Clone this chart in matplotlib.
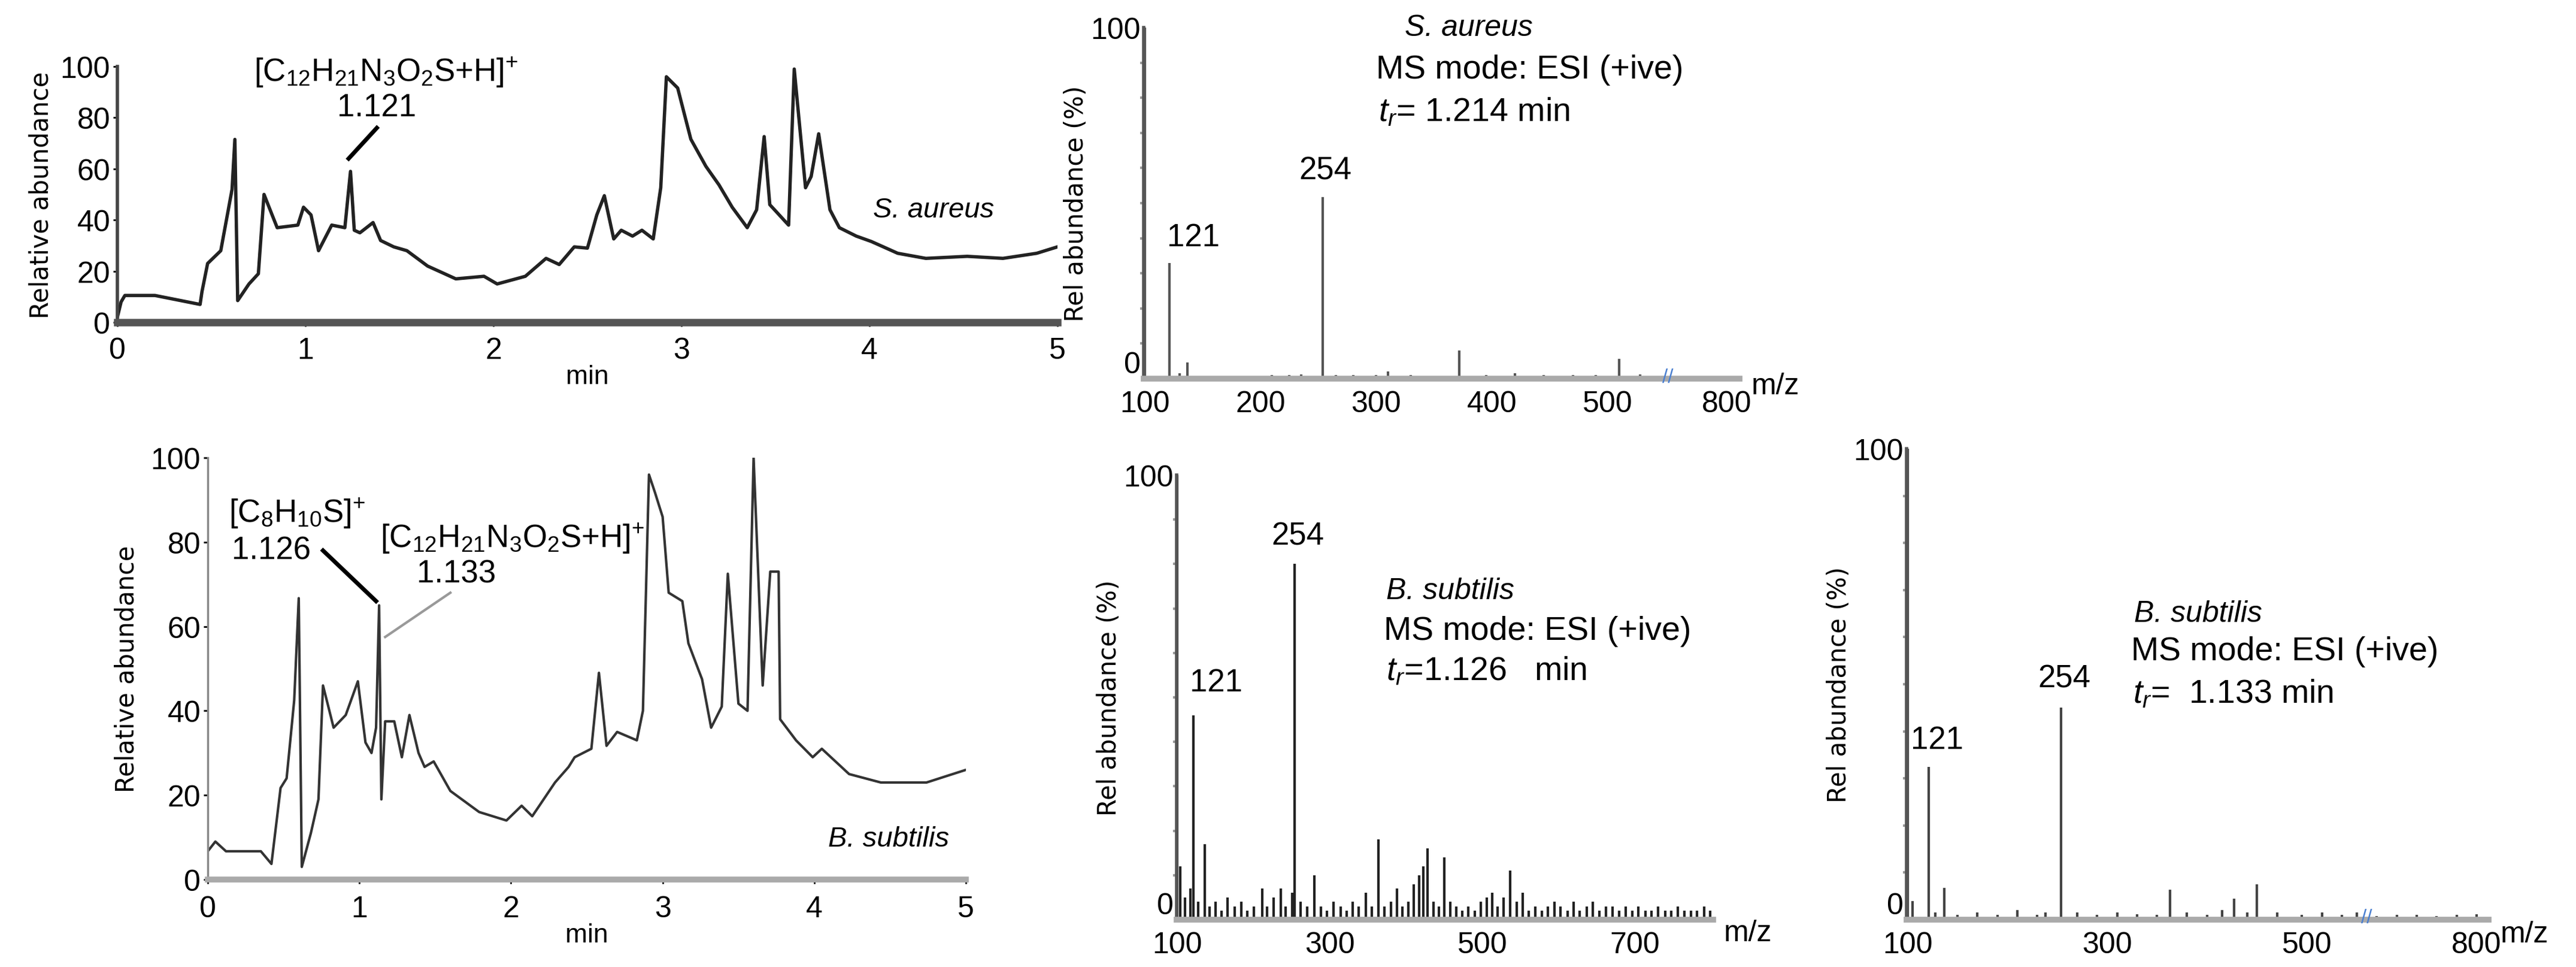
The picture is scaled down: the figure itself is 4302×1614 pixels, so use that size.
import matplotlib
matplotlib.use("Agg")
import matplotlib.pyplot as plt

plt.rcParams["font.family"] = ["Liberation Sans", "DejaVu Sans"]
plt.rcParams["mathtext.fontset"] = "custom"
plt.rcParams["mathtext.rm"] = "Liberation Sans"
plt.rcParams["mathtext.it"] = "Liberation Sans:italic"

# chromatogram S. aureus
sa_time = [0, 0.02, 0.04, 0.2, 0.44, 0.45, 0.48, 0.55, 0.61, 0.625, 0.64, 0.70, 0.75, 0.78, 0.85, 0.96,
           0.99, 1.03, 1.07, 1.14, 1.21, 1.24, 1.26, 1.29, 1.36, 1.40, 1.47, 1.54, 1.65, 1.80, 1.95,
           2.02, 2.17, 2.28, 2.35, 2.43, 2.50, 2.55, 2.59, 2.64, 2.68, 2.74, 2.79, 2.85, 2.89, 2.92,
           2.98, 3.05, 3.13, 3.20, 3.27, 3.35, 3.40, 3.44, 3.47, 3.57, 3.60, 3.66, 3.69, 3.73, 3.79,
           3.84, 3.93, 4.01, 4.15, 4.30, 4.52, 4.71, 4.89, 5.0]
sa_abund = [2, 8, 10.5, 10.5, 7, 12, 23, 28, 52, 71.5, 8.5, 15, 19, 50, 37, 38,
            45, 42, 28, 38, 37, 59, 36, 35, 39, 32, 29.5, 28, 22, 17, 18,
            15, 18, 25, 22.6, 29.5, 29, 42, 49.5, 32.6, 36, 33.7, 36, 32.6, 52.6, 96,
            91.6, 71.6, 61, 53.7, 45, 37, 44, 72.6, 46, 38, 99, 52.6, 57, 73.7, 44,
            37, 33.7, 31.6, 27, 25, 25.8, 25, 27, 29.5]

# chromatogram B. subtilis
bs_time = [0, 0.05, 0.12, 0.35, 0.42, 0.48, 0.52, 0.57, 0.60, 0.62, 0.68, 0.73, 0.76, 0.83, 0.91,
           0.99, 1.04, 1.08, 1.11, 1.13, 1.145, 1.17, 1.23, 1.28, 1.33, 1.39, 1.43, 1.49, 1.60,
           1.79, 1.97, 2.07, 2.14, 2.29, 2.38, 2.42, 2.53, 2.58, 2.63, 2.70, 2.83, 2.87, 2.91,
           2.95, 3.00, 3.04, 3.13, 3.17, 3.26, 3.32, 3.39, 3.43, 3.50, 3.56, 3.60, 3.66, 3.71,
           3.765, 3.775, 3.88, 3.99, 4.05, 4.23, 4.44, 4.74, 5.0]
bs_abund = [6.7, 9, 6.7, 6.7, 3.7, 21.7, 24, 42.5, 66.7, 3, 11, 19, 46, 36, 39,
            47, 32.5, 30, 36, 65, 19, 37.5, 37.5, 29, 39, 30, 26.7, 28, 21,
            16, 14, 17.5, 15, 23, 26.7, 29, 31, 49, 31.7, 35, 33, 40, 96,
            91.7, 86, 68, 66, 56, 47.5, 36, 41, 72.5, 41.7, 40, 100, 46, 73,
            73, 38, 33, 29, 31, 25, 23, 23, 26]

# mass spectra (m/z, relative abundance %)
sa_ms_mz = [95, 100, 121, 130, 137, 210, 225, 235, 254, 265, 280, 300, 310, 330, 372, 395, 420, 445, 470, 490, 510, 528]
sa_ms_int = [2, 100, 33, 1.5, 4.6, 1, 1, 1.2, 51.7, 1, 1, 1, 2, 1, 8, 1, 1.5, 1, 1, 1, 5.7, 1.2]

bs1_ms_mz = [100, 104, 110, 117, 121, 127, 136, 142, 150, 158, 166, 175, 184, 192, 200, 211, 218, 226, 236,
             242, 251, 254, 262, 270, 280, 288, 296, 305, 314, 322, 330, 338, 347, 355, 364, 372, 380,
             388, 395, 403, 410, 417, 423, 428, 436, 443, 450, 458, 466, 474, 482, 490, 498, 506, 513,
             520, 528, 537, 545, 553, 561, 570, 578, 586, 595, 603, 612, 620, 628, 637, 645, 654, 662,
             671, 680, 688, 697, 705, 714, 722, 731, 740, 748, 757, 765, 774, 782, 791, 799]
bs1_ms_int = [100, 12, 5, 7, 46, 4, 17, 3, 4, 2, 5, 3, 4, 2, 3, 7, 3, 5, 7,
              3, 6, 80, 4, 3, 10, 3, 2, 4, 3, 2, 4, 3, 6, 3, 18, 3, 4,
              7, 3, 4, 8, 10, 12, 16, 4, 3, 14, 4, 3, 2, 3, 2, 4, 5, 6,
              3, 5, 11, 4, 6, 2, 3, 2, 3, 4, 3, 2, 4, 2, 3, 4, 2, 3,
              3, 2, 3, 2, 3, 2, 2, 3, 2, 2, 3, 2, 2, 2, 3, 2]

bs2_ms_mz = [100, 105, 121, 128, 137, 150, 170, 190, 210, 230, 238, 254, 270, 290, 310, 330, 350, 363,
             380, 400, 415, 427, 440, 450, 470, 495, 515, 535, 550, 570, 590, 610, 630, 650, 670]
bs2_ms_int = [100, 4, 32.5, 1.5, 6.7, 1, 1.5, 1, 2, 1, 1.5, 45, 1.5, 1, 1.5, 1.2, 1, 6.3,
              1.5, 1, 2, 4.5, 1.5, 7.5, 1.5, 1, 1.5, 1, 1.5, 0.8, 1, 1, 0.8, 1, 1.2]

W, H = 4302, 1615
fig = plt.figure(figsize=(W / 100, H / 100), dpi=100)


def px_axes(x0, x1, y_bottom, y_top):
    return fig.add_axes([x0 / W, 1 - y_bottom / H, (x1 - x0) / W, (y_bottom - y_top) / H])


TICK = 36
TXT = 38
formula = r"[C$_{12}$H$_{21}$N$_3$O$_2$S+H]$^{+}$"

# ---- top left chromatogram
ax1 = px_axes(196, 1766, 539, 112)
ax1.plot(sa_time, sa_abund, color="#222222", lw=4)
ax1.set_xlim(0, 5)
ax1.set_ylim(0, 100)
ax1.set_xticks(range(6))
ax1.set_yticks(range(0, 101, 20))
for s in ["top", "right"]:
    ax1.spines[s].set_visible(False)
ax1.spines["bottom"].set_color("#555555")
ax1.spines["bottom"].set_linewidth(9)
ax1.spines["left"].set_color("#444444")
ax1.spines["left"].set_linewidth(4)
ax1.tick_params(labelsize=TICK, length=5, width=2)
ax1.tick_params(axis="x", pad=12)
ax1.set_ylabel("Relative abundance", fontsize=30, family="DejaVu Sans", labelpad=8)
ax1.set_xlabel("min", fontsize=32, labelpad=0)
ax1.text(1.43, 98, formula, fontsize=TXT, ha="center", va="center")
ax1.text(1.38, 84, "1.121", fontsize=TXT, ha="center", va="center")
ax1.plot([1.23, 1.38], [64, 76], color="black", lw=5)
ax1.text(4.34, 44, "S. aureus", fontsize=34, style="italic", ha="center", va="center")

# ---- bottom left chromatogram
ax2 = px_axes(347, 1613, 1469, 765)
ax2.plot(bs_time, bs_abund, color="#333333", lw=3)
ax2.set_xlim(0, 5)
ax2.set_ylim(0, 100)
ax2.set_xticks(range(6))
ax2.set_yticks(range(0, 101, 20))
for s in ["top", "right"]:
    ax2.spines[s].set_visible(False)
ax2.spines["bottom"].set_color("#aaaaaa")
ax2.spines["bottom"].set_linewidth(7)
ax2.spines["left"].set_color("#888888")
ax2.spines["left"].set_linewidth(2.5)
ax2.tick_params(labelsize=TICK, length=5, width=2)
ax2.tick_params(axis="x", pad=14)
ax2.set_ylabel("Relative abundance", fontsize=30, family="DejaVu Sans", labelpad=14)
ax2.set_xlabel("min", fontsize=32, labelpad=0)
ax2.text(0.59, 87, r"[C$_8$H$_{10}$S]$^{+}$", fontsize=TXT, ha="center", va="center")
ax2.text(0.42, 78, "1.126", fontsize=TXT, ha="center", va="center")
ax2.plot([0.76, 1.11], [78, 66], color="black", lw=5)
ax2.text(2.01, 81, formula, fontsize=TXT, ha="center", va="center")
ax2.text(1.64, 72.5, "1.133", fontsize=TXT, ha="center", va="center")
ax2.plot([1.60, 1.17], [68, 57.5], color="#999999", lw=3)
ax2.text(4.49, 9.6, "B. subtilis", fontsize=34, style="italic", ha="center", va="center")


def spectrum(ax, mz, inten, xlim, ticks, ticklabels, peak_color, lw):
    ax.vlines(mz, 0, inten, color=peak_color, lw=lw)
    ax.set_xlim(*xlim)
    ax.set_ylim(0, 100)
    ax.set_xticks(ticks)
    ax.set_xticklabels(ticklabels)
    ax.set_yticks([0, 100])
    ax.set_yticks(range(10, 100, 10), minor=True)
    for s in ["top", "right"]:
        ax.spines[s].set_visible(False)
    ax.spines["bottom"].set_color("#aaaaaa")
    ax.spines["bottom"].set_linewidth(7)
    ax.spines["left"].set_color("#555555")
    ax.spines["left"].set_linewidth(4)
    ax.tick_params(labelsize=TICK, length=0, pad=4)
    ax.tick_params(axis="x", pad=14)
    ax.tick_params(axis="y", which="minor", length=4, width=3, color="#999999")
    ax.get_yticklabels()[0].set_va("bottom")
    ax.set_ylabel("Rel abundance (%)", fontsize=30, family="DejaVu Sans", labelpad=2)


# ---- top middle spectrum
ax3 = px_axes(1910, 2905, 633, 47)
spectrum(ax3, sa_ms_mz, sa_ms_int, (99, 614), [100, 200, 300, 400, 500, 603],
         ["100", "200", "300", "400", "500", "800"], "#555555", 3)
ax3.text(552, 0.5, "//", fontsize=24, color="#4a7fd0", ha="center", va="center", clip_on=False)
ax3.text(119, 36, "121", fontsize=TXT, ha="left", va="bottom")
ax3.text(256, 55, "254", fontsize=TXT, ha="center", va="bottom")
ax3.text(380, 100, "S. aureus", fontsize=36, style="italic", ha="center", va="center")
ax3.text(300, 88, "MS mode: ESI (+ive)", fontsize=40, ha="left", va="center")
ax3.text(302, 76, r"$t_r$= 1.214 min", fontsize=40, ha="left", va="center")
ax3.text(1.02, -0.02, "m/z", fontsize=36, transform=ax3.transAxes, ha="left", va="center")

# ---- bottom middle spectrum
ax4 = px_axes(1965, 2861, 1536, 794)
spectrum(ax4, bs1_ms_mz, bs1_ms_int, (99, 803), [100, 300, 500, 700],
         ["100", "300", "500", "700"], "#222222", 3)
ax4.text(116, 50, "121", fontsize=TXT, ha="left", va="bottom")
ax4.text(258, 83, "254", fontsize=TXT, ha="center", va="bottom")
ax4.text(374, 74, "B. subtilis", fontsize=36, style="italic", ha="left", va="center")
ax4.text(371, 65, "MS mode: ESI (+ive)", fontsize=40, ha="left", va="center")
ax4.text(374, 56, r"$t_r$=1.126   min", fontsize=40, ha="left", va="center")
ax4.text(1.02, -0.03, "m/z", fontsize=36, transform=ax4.transAxes, ha="left", va="center")

# ---- bottom right spectrum
ax5 = px_axes(3184, 4156, 1536, 750)
spectrum(ax5, bs2_ms_mz, bs2_ms_int, (99, 682), [100, 300, 500, 670],
         ["100", "300", "500", "800"], "#444444", 3)
ax5.text(560, 0.5, "//", fontsize=24, color="#4a7fd0", ha="center", va="center", clip_on=False)
ax5.text(103, 35, "121", fontsize=TXT, ha="left", va="bottom")
ax5.text(257, 48, "254", fontsize=TXT, ha="center", va="bottom")
ax5.text(327, 65, "B. subtilis", fontsize=36, style="italic", ha="left", va="center")
ax5.text(324, 57, "MS mode: ESI (+ive)", fontsize=40, ha="left", va="center")
ax5.text(326, 48, r"$t_r$=  1.133 min", fontsize=40, ha="left", va="center")
ax5.text(1.02, -0.03, "m/z", fontsize=36, transform=ax5.transAxes, ha="left", va="center")

fig.savefig("out.png", dpi=100)
